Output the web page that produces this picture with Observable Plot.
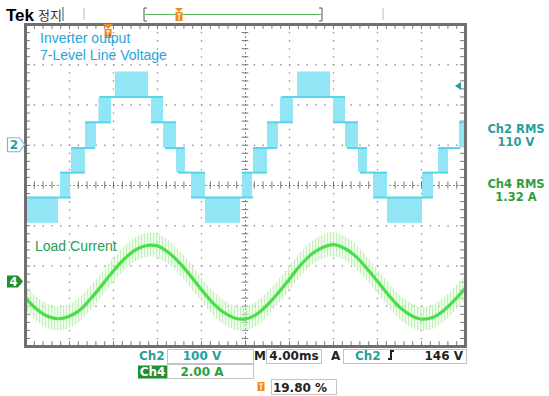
<!DOCTYPE html>
<html><head><meta charset="utf-8">
<script src="https://cdn.jsdelivr.net/npm/d3@7"></script>
<script src="https://cdn.jsdelivr.net/npm/@observablehq/plot@0.6"></script>
<style>body{margin:0;background:#fff} #chart{width:549px;height:396px}</style>
</head><body><div id="chart"></div>
<script>
// ---- Data (time in ms, voltage in V, current in A) ----
const ch2VoltsPerDiv = 100, ch2OffsetDiv = 1;
const ch4AmpsPerDiv = 2, ch4OffsetDiv = -2.4;
const timePerDivMs = 4;

// switching bands of the 7-level line voltage: [t0, t1, vLow, vHigh]
const voltageBands = [
  [0, 3.0, -194, -130],
  [3.18, 4.09, -130, -68], [4.18, 5.45, -68, -7], [5.45, 6.45, -7, 57], [6.68, 7.82, 57, 120],
  [8.18, 11.18, 120, 182],
  [11.45, 12.55, 57, 120], [12.55, 13.73, -7, 57], [13.73, 14.55, -68, -7], [15.09, 16.36, -130, -68],
  [16.36, 19.55, -194, -130],
  [19.73, 20.64, -130, -68], [20.73, 22.0, -68, -7], [22.0, 23.0, -7, 57], [23.18, 24.36, 57, 120],
  [24.73, 27.73, 120, 182],
  [28.0, 29.09, 57, 120], [29.09, 30.27, -7, 57], [30.27, 31.09, -68, -7], [31.64, 32.91, -130, -68],
  [32.91, 36.09, -194, -130],
  [36.09, 37.09, -130, -68], [37.55, 38.45, -68, -7], [39.45, 40, -7, 57]
];
// level lines of the staircase: [t0, t1, v]
const voltageSteps = [
  [0, 4.18, -130],
  [3.18, 5.45, -68], [4.18, 6.36, -7], [5.45, 7.82, 57], [6.82, 12.55, 120],
  [11.45, 13.73, 57], [12.73, 14.55, -7], [13.91, 16.36, -68],
  [15.09, 20.73, -130],
  [19.73, 22.0, -68], [20.73, 22.91, -7], [22.0, 24.36, 57], [23.36, 29.09, 120],
  [28.0, 30.27, 57], [29.27, 31.09, -7], [30.45, 32.91, -68],
  [31.64, 37.09, -130],
  [36.18, 38.45, -68], [37.55, 39.55, -7], [39.45, 40, 57]
];
const currentT = [0,1,2,3,4,5,6,7,8,9,10,11,12,13,14,15,16,17,18,19,20,21,22,23,24,25,26,27,28,29,30,31,32,33,34,35,36,37,38,39,40];
const currentA = [-0.80,-1.34,-1.70,-1.82,-1.70,-1.36,-0.78,-0.12,0.56,1.16,1.60,1.82,1.80,1.47,0.96,0.32,-0.38,-1.02,-1.50,-1.78,-1.83,-1.60,-1.13,-0.52,0.16,0.84,1.38,1.72,1.86,1.68,1.29,0.70,0.04,-0.64,-1.24,-1.64,-1.84,-1.76,-1.42,-0.90,-0.30];
const rippleA = 0.6;

const bands = voltageBands.map(([t0,t1,lo,hi]) => ({t0,t1,lo,hi}));
const steps = voltageSteps.map(([t0,t1,v]) => ({t0,t1,v}));
const current = currentT.map((t,k) => ({t, i: currentA[k]}));

const vDiv = v => v / ch2VoltsPerDiv + ch2OffsetDiv;
const iDiv = a => a / ch4AmpsPerDiv + ch4OffsetDiv;

const majorX = d3.range(0, 41, timePerDivMs).filter(t => t > 0 && t < 40 && t !== 20);
const majorY = [-3,-2,-1,1,2,3];
const minorX = d3.range(0, 40.01, timePerDivMs/5);
const minorY = d3.range(-4, 4.01, 0.2);
const gridC = "#8c8c8c";

const plot = Plot.plot({
  width: 549, height: 396,
  marginLeft: 25, marginRight: 84, marginTop: 24, marginBottom: 50,
  x: {domain: [0, 40], axis: null},
  y: {domain: [-4, 4], axis: null},
  style: {background: "white"},
  marks: [
    Plot.ruleX(majorX, {stroke: gridC, strokeWidth: 1.3, strokeDasharray: "1.3,6.75"}),
    Plot.ruleY(majorY, {stroke: gridC, strokeWidth: 1.3, strokeDasharray: "1.3,7.5"}),
    Plot.ruleX([20], {stroke: gridC, strokeWidth: 1, strokeDasharray: "2,2"}),
    Plot.ruleY([0], {stroke: gridC, strokeWidth: 1, strokeDasharray: "2,2"}),
    Plot.ruleX(minorX, {y1: -0.09, y2: 0.09, stroke: "#777", strokeWidth: 1}),
    Plot.ruleY(minorY, {x1: 19.7, x2: 20.3, stroke: "#777", strokeWidth: 1}),
    Plot.ruleX(minorX, {y1: 4, y2: 3.88, stroke: "#777", strokeWidth: 1}),
    Plot.ruleX(minorX, {y1: -4, y2: -3.88, stroke: "#777", strokeWidth: 1}),
    Plot.ruleY(minorY, {x1: 0, x2: 0.45, stroke: "#777", strokeWidth: 1}),
    Plot.ruleY(minorY, {x1: 40, x2: 39.55, stroke: "#777", strokeWidth: 1}),
    // voltage
    Plot.rect(bands, {x1: "t0", x2: "t1", y1: d => vDiv(d.lo), y2: d => vDiv(d.hi), fill: "#92e5f4"}),
    Plot.ruleY(steps, {x1: "t0", x2: "t1", y: d => vDiv(d.v), stroke: "#55d4ea", strokeWidth: 2}),
    // current
    Plot.areaY(current, {x: "t", y1: d => iDiv(d.i - rippleA), y2: d => iDiv(d.i + rippleA), curve: "catmull-rom", fill: "url(#ripple)"}),
    Plot.line(current, {x: "t", y: d => iDiv(d.i), curve: "catmull-rom", stroke: "#48e048", strokeWidth: 3.2}),
    Plot.frame({stroke: "#6f6f6f", strokeWidth: 3})
  ]
});
document.getElementById("chart").append(plot);

const svg = d3.select(plot);
const X = v => plot.scale("x").apply(v);
const Y = v => plot.scale("y").apply(v);
const defs = svg.insert("defs", ":first-child");
const pat = defs.append("pattern").attr("id", "ripple").attr("patternUnits", "userSpaceOnUse").attr("width", 3).attr("height", 40);
pat.append("rect").attr("width", 3).attr("height", 40).attr("fill", "#e2fadc").attr("opacity", 0.45);
pat.append("line").attr("x1", 0.6).attr("x2", 0.6).attr("y1", 0).attr("y2", 40).attr("stroke", "#b0eea6").attr("stroke-width", 0.8);

const bold = "DejaVu Sans, sans-serif";
function txt(x, y, s, o = {}) {
  return svg.append("text").attr("x", x).attr("y", y).text(s)
    .attr("font-family", o.family || bold).attr("font-size", o.size || 12)
    .attr("font-weight", o.weight || "bold").attr("fill", o.fill || "#000")
    .attr("text-anchor", o.anchor || "start");
}
function box(x, y, w, h, fill = "#fff", stroke = "#c4c4c4") {
  return svg.append("rect").attr("x", x).attr("y", y).attr("width", w).attr("height", h).attr("fill", fill).attr("stroke", stroke).attr("stroke-width", 1);
}
const teal = "#2a9e9e", green = "#2f9e3c", orange = "#f0891a";

// header
txt(6, 21, "Tek", {size: 17, family: "Liberation Sans, Arial, sans-serif"});
txt(38, 20, "정지", {size: 13, weight: "normal", family: "Noto Sans CJK KR", fill: "#333"});
svg.append("line").attr("x1", 63).attr("x2", 63).attr("y1", 7).attr("y2", 21).attr("stroke", "#555");
[84, 383].forEach(x => svg.append("line").attr("x1", x).attr("x2", x).attr("y1", 8).attr("y2", 20).attr("stroke", "#bbb"));
svg.append("line").attr("x1", 145).attr("x2", 321).attr("y1", 14.5).attr("y2", 14.5).attr("stroke", "#5cb85c").attr("stroke-width", 1.2);
svg.append("path").attr("d", "M147,8 h-3 v13 h3 M319,8 h3 v13 h-3").attr("fill", "none").attr("stroke", "#555");
function tMarker(x, y) {
  svg.append("rect").attr("x", x - 3.5).attr("y", y).attr("width", 7).attr("height", 9).attr("fill", orange);
  svg.append("path").attr("d", `M${x-2},${y+2} h4 M${x},${y+2} v6`).attr("stroke", "#fff").attr("stroke-width", 1.2);
}
svg.append("path").attr("d", "M175,8 h8 l-4,4 z").attr("fill", orange);
tMarker(179, 12);
const trigX = X(7.55);
svg.append("path").attr("d", `M${trigX-5},${Y(4)} h10 l-5,5 z`).attr("fill", orange);
tMarker(trigX, Y(4) + 5);

// trace labels
txt(40, 43, "Inverter output", {size: 14, weight: "normal", family: "Liberation Sans, Arial, sans-serif", fill: "#27a4de"});
txt(40, 59.5, "7-Level Line Voltage", {size: 14, weight: "normal", family: "Liberation Sans, Arial, sans-serif", fill: "#27a4de"});
txt(35, 251, "Load Current", {size: 14, weight: "normal", family: "Liberation Sans, Arial, sans-serif", fill: "#239e55"});

// channel ground markers
const y2 = Y(ch2OffsetDiv), y4 = Y(ch4OffsetDiv);
svg.append("path").attr("d", `M7.5,${y2-7} h12 l5,7 l-5,7 h-12 z`).attr("fill", "#fff").attr("stroke", "#6cc4c4").attr("stroke-width", 1.2);
txt(14, y2 + 4.5, "2", {size: 12, fill: teal, anchor: "middle"});
svg.append("path").attr("d", `M7,${y4-6} h11 l5,6 l-5,6 h-11 z`).attr("fill", "#1f8f2f");
txt(13.5, y4 + 4.5, "4", {size: 11.5, fill: "#fff", anchor: "middle"});
// trigger level arrow
const yT = Y(vDiv(146));
svg.append("path").attr("d", `M455,${yT} l6,-4 v8 z`).attr("fill", teal);

// right readouts
txt(516, 132.5, "Ch2 RMS", {size: 11.5, fill: teal, anchor: "middle"});
txt(516, 146, "110 V", {size: 11.5, fill: teal, anchor: "middle"});
txt(516, 187.5, "Ch4 RMS", {size: 11.5, fill: green, anchor: "middle"});
txt(516, 201, "1.32 A", {size: 11.5, fill: green, anchor: "middle"});

// bottom readouts
txt(139, 360, "Ch2", {fill: teal});
box(167.5, 349.5, 86, 14);
txt(202, 360, "100 V", {fill: teal, anchor: "middle"});
txt(254, 360, "M", {fill: "#222"});
box(266.5, 349.5, 55, 14);
txt(294, 360, "4.00ms", {fill: "#222", anchor: "middle"});
txt(331, 360, "A", {fill: "#222"});
box(343.5, 349.5, 123, 14);
txt(355, 360, "Ch2", {fill: teal});
svg.append("path").attr("d", "M388,359 h3 v-8 h3").attr("fill", "none").attr("stroke", "#222").attr("stroke-width", 2);
txt(463, 360, "146 V", {fill: "#222", anchor: "end"});
box(138.5, 366, 28, 12, "#1f8f2f", "#1f8f2f");
txt(152.5, 376, "Ch4", {fill: "#fff", anchor: "middle"});
box(167.5, 364.5, 86, 14);
txt(202, 375.5, "2.00 A", {fill: green, anchor: "middle"});
tMarker(261, 382);
box(271.5, 379.5, 65, 15);
txt(300, 391.5, "19.80 %", {fill: "#222", anchor: "middle"});
</script></body></html>
